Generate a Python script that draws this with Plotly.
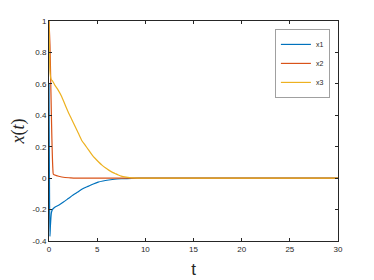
import plotly.graph_objects as go

t1 = [0, 0.03, 0.06, 0.1, 0.15, 0.25, 0.35, 0.6, 1.0, 1.5, 2.0, 2.5, 3.0, 3.5, 4.1, 4.6, 5.1, 5.6, 6.2, 6.8, 7.5, 8.6, 10, 15, 30]
x1 = [0.6, 0.2, -0.15, -0.37, -0.3, -0.22, -0.2, -0.185, -0.172, -0.152, -0.13, -0.108, -0.088, -0.068, -0.051, -0.037, -0.025, -0.018, -0.012, -0.007, -0.004, -0.001, 0, 0, 0]

t2 = [0, 0.1, 0.2, 0.3, 0.4, 0.45, 0.6, 1.0, 1.66, 2.2, 2.7, 3.5, 6, 10, 30]
x2 = [1.0, 0.85, 0.55, 0.25, 0.06, 0.025, 0.02, 0.012, 0.004, 0.002, 0.0005, 0, 0, 0, 0]

t3 = [0, 0.05, 0.1, 0.21, 0.4, 0.62, 0.95, 1.31, 1.65, 2.0, 2.35, 2.7, 3.05, 3.4, 3.75, 4.1, 4.45, 4.8, 5.15, 5.5, 5.85, 6.2, 6.5, 6.85, 7.2, 7.5, 8.0, 8.6, 9.5, 11, 15, 30]
x3 = [1.0, 0.82, 0.68, 0.63, 0.615, 0.59, 0.56, 0.52, 0.47, 0.42, 0.375, 0.33, 0.285, 0.24, 0.21, 0.18, 0.15, 0.125, 0.103, 0.083, 0.066, 0.051, 0.04, 0.03, 0.02, 0.013, 0.007, 0.002, 0.0005, 0, 0, 0]

names = ["x1", "x2", "x3"]
colors = ["#0072BD", "#D95319", "#EDB120"]

fig = go.Figure()
for t, x, n, c in zip([t1, t2, t3], [x1, x2, x3], names, colors):
    fig.add_trace(go.Scatter(x=t, y=x, mode="lines", name=n,
                             line=dict(color=c, width=1.2, shape="spline", smoothing=0.6)))

axis_common = dict(showgrid=False, zeroline=False, showline=True, mirror="ticks",
                   linecolor="#262626", linewidth=1, ticks="inside", ticklen=3,
                   tickcolor="#262626", automargin=False,
                   tickfont=dict(family="Liberation Sans", size=8, color="#262626"))

fig.update_xaxes(range=[0, 30], tickvals=[0, 5, 10, 15, 20, 25, 30],
                 title=dict(text="t", font=dict(family="Liberation Sans", size=17, color="#262626"), standoff=10),
                 **axis_common)
fig.update_yaxes(range=[-0.4, 1], tickvals=[-0.4, -0.2, 0, 0.2, 0.4, 0.6, 0.8, 1],
                 ticktext=["-0.4", "-0.2", "0", "0.2", "0.4", "0.6", "0.8", "1"],
                 title=dict(text="<i>x</i>(<i>t</i>)", font=dict(family="Liberation Serif", size=18, color="#262626"), standoff=12),
                 **axis_common)

fig.update_layout(
    width=366, height=272,
    margin=dict(l=41, r=36, t=13, b=39),
    plot_bgcolor="white", paper_bgcolor="white",
    legend=dict(x=0.972, y=0.964, xanchor="right", yanchor="top",
                bordercolor="#A0A0A0", borderwidth=1, bgcolor="white",
                font=dict(family="Liberation Sans", size=7, color="#262626"),
                tracegroupgap=0, itemwidth=30),
    showlegend=True,
)

fig.write_html("out.html")
